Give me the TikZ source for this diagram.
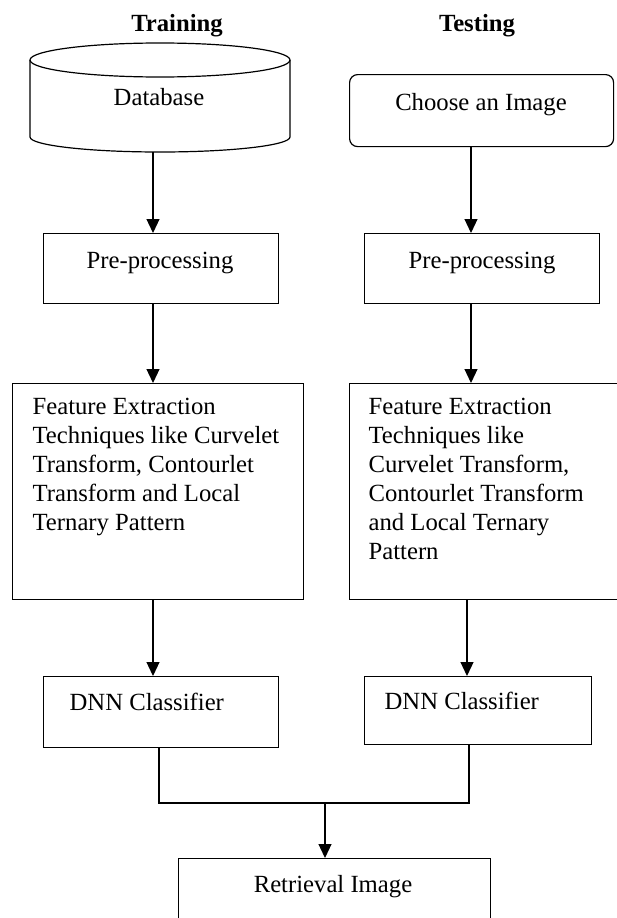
\documentclass[tikz,border=0pt]{standalone}
\usepackage{fontspec}
\setmainfont{Liberation Serif}
\usetikzlibrary{arrows.meta}
\begin{document}
\begin{tikzpicture}[x=1pt,y=-1pt,line width=1.2pt,
  box/.style={draw,rectangle,inner sep=0pt,anchor=north west},
  lbl/.style={anchor=base,inner sep=0pt,font=\fontsize{24.7}{29}\selectfont},
  lblw/.style={lbl,anchor=base west},
  arr/.style={-{Triangle[width=13pt,length=14pt]}}]
\useasboundingbox (0,0) rectangle (617,918);

% titles
\node[lbl,font=\fontsize{24.7}{29}\selectfont\bfseries] (ttrain) at (177,31) {Training};
\node[lbl,font=\fontsize{24.7}{29}\selectfont\bfseries] (ttest) at (477,31) {Testing};

% database cylinder
\draw (160,60) ellipse [x radius=130, y radius=17];
\draw (30,60) -- (30,137) arc [start angle=180, end angle=0, x radius=130, y radius=15] -- (290,60);
\node[lbl] (db) at (159,105) {Database};
\coordinate (dbb) at (153,152);

% choose box
\node[box,rounded corners=8pt,minimum width=264pt,minimum height=72pt] (choose) at (349,74) {};
\node[lbl] (choosetxt) at (481,110) {Choose an Image};

% pre-processing
\node[box,minimum width=235pt,minimum height=70pt] (preL) at (43,233) {};
\node[box,minimum width=235pt,minimum height=70pt] (preR) at (364,233) {};
\node[lbl] (preLt) at (160,268) {Pre-processing};
\node[lbl] (preRt) at (482,268) {Pre-processing};

% feature extraction
\node[box,minimum width=291pt,minimum height=216pt] (featL) at (12,383) {};
\node[box,minimum width=269pt,minimum height=216pt] (featR) at (349,383) {};
\foreach \t [count=\i from 0] in {Feature Extraction,Techniques like Curvelet,{Transform, Contourlet},Transform and Local,Ternary Pattern}
  \node[lblw] (fl\i) at (32,414+29*\i) {\t};
\foreach \t [count=\i from 0] in {Feature Extraction,Techniques like,{Curvelet Transform,},Contourlet Transform,and Local Ternary,Pattern}
  \node[lblw] (fr\i) at (368,414+29*\i) {\t};

% DNN
\node[box,minimum width=235pt,minimum height=71pt] (dnnL) at (43,676) {};
\node[box,minimum width=227pt,minimum height=68pt] (dnnR) at (364,676) {};
\node[lblw] (dnnLt) at (69,710) {DNN Classifier};
\node[lblw] (dnnRt) at (384,709) {DNN Classifier};

% retrieval
\node[box,minimum width=312pt,minimum height=80pt] (retr) at (178,858) {};
\node[lbl] (retrt) at (333,892) {Retrieval Image};

% connectors
\coordinate (xL) at (153,0);
\coordinate (xR) at (471,0);
\coordinate (xR2) at (467,0);
\draw[arr] (dbb) -- (dbb |- preL.north);
\draw[arr] (choose.south -| xR) -- (preR.north -| xR);
\draw[arr] (preL.south -| xL) -- (featL.north -| xL);
\draw[arr] (preR.south -| xR) -- (featR.north -| xR);
\draw[arr] (featL.south -| xL) -- (dnnL.north -| xL);
\draw[arr] (featR.south -| xR2) -- (dnnR.north -| xR2);
\coordinate (jL) at (159,803);
\coordinate (jR) at (469,803);
\coordinate (jM) at (325,803);
\draw (dnnL.south -| jL) -- (jL) -- (jR) -- (dnnR.south -| jR);
\draw[arr] (jM) -- (retr.north -| jM);
\end{tikzpicture}
\end{document}
